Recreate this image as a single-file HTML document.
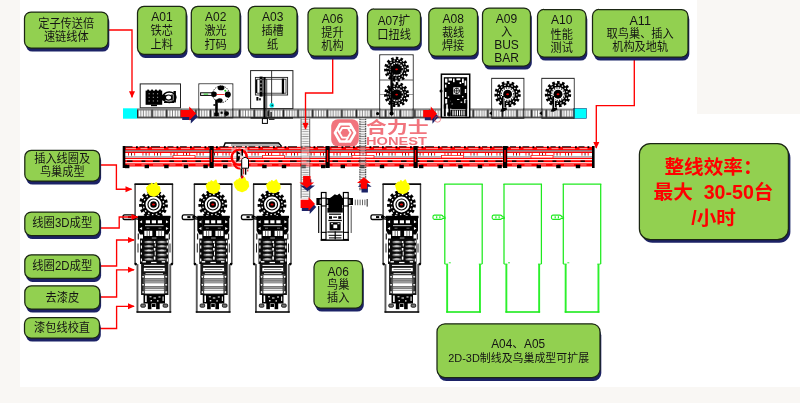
<!DOCTYPE html>
<html lang="zh"><head><meta charset="utf-8"><title>Stator production line layout</title>
<style>
html,body{margin:0;padding:0;background:#fff;}
body{width:800px;height:403px;overflow:hidden;position:relative;font-family:"Liberation Sans","Noto Sans CJK SC",sans-serif;}
.bg{position:absolute;background:#f9f7f4;}
svg{position:absolute;left:0;top:0;display:block;filter:blur(0.35px);}
</style></head><body>
<div class="bg" style="left:0;top:0;width:19.5px;height:403px"></div>
<div class="bg" style="left:0;top:386.6px;width:800px;height:16.4px"></div>
<div class="bg" style="left:697px;top:0;width:103px;height:114px"></div>
<svg width="800" height="403" viewBox="0 0 800 403" font-family="'Liberation Sans', 'Noto Sans CJK SC', sans-serif"><defs><filter id="bl" x="-10%" y="-10%" width="130%" height="140%"><feGaussianBlur stdDeviation="0.55"/></filter><filter id="soft" x="-5%" y="-5%" width="110%" height="110%"><feGaussianBlur stdDeviation="0.35"/></filter><g id="tall"><path d="M0.6 80.6 V0.6 M38 0.6 V80.6" fill="none" stroke="#3c3c3c" stroke-width="1.40"/><path d="M0 0.6 H38.6" fill="none" stroke="#0a0a0a" stroke-width="1.60"/><rect x="2.00" y="80.60" width="1.90" height="48.40" fill="#5a5a5a"/><rect x="34.80" y="80.60" width="1.90" height="48.40" fill="#5a5a5a"/><rect x="2.00" y="127.70" width="34.70" height="1.60" fill="#0a0a0a"/><g transform="translate(19 21)"><circle r="12.76" fill="none" stroke="#000" stroke-width="3.35" stroke-dasharray="2.88 2.47"/><circle r="9.94" fill="#fff" stroke="#000" stroke-width="3.98"/><circle r="10.15" fill="none" stroke="#fff" stroke-width="1.31" stroke-dasharray="1.52 2.47"/><circle r="5.54" fill="#fff" stroke="#000" stroke-width="1.15"/><circle r="3.24" fill="#000"/><ellipse rx="1.57" ry="1.05" fill="#e00000"/></g><path d="M-10 31.3 h8.5 q2 0 2.2 1.6 l3.5 1.2 v1.6 l-4 -0.6 q-0.6 0.9 -1.7 0.9 h-8.5 q-1.6 0 -1.6 -2.3 q0 -2.4 1.6 -2.4z" fill="#fff" stroke="#000" stroke-width="1.3"/><rect x="-6.50" y="32.60" width="3.20" height="2.00" fill="#000"/><rect x="-1.50" y="32.30" width="3.00" height="2.60" fill="#000"/><rect x="3.50" y="32.30" width="32.50" height="2.40" fill="#000"/><path d="M3.5 34 h5.5 v17 h-3.5 l-2 -4z M35.5 34 h-5.5 v17 h3.5 l2 -4z" fill="#000"/><path d="M5 38.5 l2.6 -1.8 v3z M34 38.5 l-2.6 -1.8 v3z M5 45 l2.6 -1.6 v3z M34 45 l-2.6 -1.6 v3z" fill="#fff"/><rect x="8.50" y="34.50" width="22.50" height="27.00" fill="#000"/><rect x="11.30" y="36.80" width="4.20" height="3.00" fill="#fff"/><rect x="17.30" y="36.80" width="4.20" height="3.00" fill="#fff"/><rect x="23.30" y="36.80" width="4.20" height="3.00" fill="#fff"/><rect x="10.50" y="41.80" width="18.50" height="0.80" fill="#fff"/><rect x="12.00" y="44.30" width="3.00" height="0.70" fill="#999"/><rect x="24.00" y="44.30" width="3.00" height="0.70" fill="#999"/><rect x="9.80" y="47.30" width="8.00" height="5.20" fill="#fff"/><rect x="21.60" y="47.30" width="8.00" height="5.20" fill="#fff"/><rect x="12.20" y="47.30" width="0.80" height="5.20" fill="#555"/><rect x="14.60" y="47.30" width="0.80" height="5.20" fill="#555"/><rect x="24.00" y="47.30" width="0.80" height="5.20" fill="#555"/><rect x="26.40" y="47.30" width="0.80" height="5.20" fill="#555"/><rect x="17.30" y="54.20" width="4.60" height="0.90" fill="#fff"/><rect x="5.50" y="55.00" width="28.50" height="25.50" fill="#0a0a0a"/><ellipse cx="14.3" cy="58.5" rx="4.6" ry="1.55" fill="#8a8a8a" stroke="#000" stroke-width="0.5"/><ellipse cx="14.3" cy="58.3" rx="2.6" ry="0.6" fill="#ddd"/><ellipse cx="14.3" cy="62.8" rx="4.6" ry="1.55" fill="#8a8a8a" stroke="#000" stroke-width="0.5"/><ellipse cx="14.3" cy="62.6" rx="2.6" ry="0.6" fill="#ddd"/><ellipse cx="14.3" cy="67.1" rx="4.6" ry="1.55" fill="#8a8a8a" stroke="#000" stroke-width="0.5"/><ellipse cx="14.3" cy="66.9" rx="2.6" ry="0.6" fill="#ddd"/><ellipse cx="14.3" cy="71.4" rx="4.6" ry="1.55" fill="#8a8a8a" stroke="#000" stroke-width="0.5"/><ellipse cx="14.3" cy="71.2" rx="2.6" ry="0.6" fill="#ddd"/><ellipse cx="14.3" cy="75.7" rx="4.6" ry="1.55" fill="#8a8a8a" stroke="#000" stroke-width="0.5"/><ellipse cx="14.3" cy="75.5" rx="2.6" ry="0.6" fill="#ddd"/><ellipse cx="27.3" cy="58.5" rx="4.6" ry="1.55" fill="#8a8a8a" stroke="#000" stroke-width="0.5"/><ellipse cx="27.3" cy="58.3" rx="2.6" ry="0.6" fill="#ddd"/><ellipse cx="27.3" cy="62.8" rx="4.6" ry="1.55" fill="#8a8a8a" stroke="#000" stroke-width="0.5"/><ellipse cx="27.3" cy="62.6" rx="2.6" ry="0.6" fill="#ddd"/><ellipse cx="27.3" cy="67.1" rx="4.6" ry="1.55" fill="#8a8a8a" stroke="#000" stroke-width="0.5"/><ellipse cx="27.3" cy="66.9" rx="2.6" ry="0.6" fill="#ddd"/><ellipse cx="27.3" cy="71.4" rx="4.6" ry="1.55" fill="#8a8a8a" stroke="#000" stroke-width="0.5"/><ellipse cx="27.3" cy="71.2" rx="2.6" ry="0.6" fill="#ddd"/><ellipse cx="27.3" cy="75.7" rx="4.6" ry="1.55" fill="#8a8a8a" stroke="#000" stroke-width="0.5"/><ellipse cx="27.3" cy="75.5" rx="2.6" ry="0.6" fill="#ddd"/><rect x="6.30" y="57.00" width="1.20" height="2.20" fill="#fff"/><rect x="6.30" y="62.00" width="1.20" height="3.00" fill="#fff"/><rect x="6.30" y="69.00" width="1.20" height="2.00" fill="#fff"/><rect x="6.30" y="75.00" width="1.20" height="3.00" fill="#fff"/><rect x="32.20" y="57.00" width="1.20" height="2.20" fill="#fff"/><rect x="32.20" y="62.00" width="1.20" height="3.00" fill="#fff"/><rect x="32.20" y="69.00" width="1.20" height="2.00" fill="#fff"/><rect x="32.20" y="75.00" width="1.20" height="3.00" fill="#fff"/><rect x="20.20" y="60.00" width="1.00" height="3.00" fill="#fff"/><rect x="20.20" y="68.00" width="1.00" height="4.00" fill="#fff"/><rect x="3.20" y="50.00" width="1.20" height="6.00" fill="#222"/><rect x="34.20" y="50.00" width="1.20" height="6.00" fill="#222"/><rect x="3.00" y="60.00" width="1.00" height="9.00" fill="#222"/><rect x="35.00" y="60.00" width="1.00" height="9.00" fill="#222"/><rect x="19.30" y="57.50" width="1.60" height="2.00" fill="#fff"/><rect x="19.30" y="64.50" width="1.60" height="2.60" fill="#fff"/><rect x="19.30" y="73.00" width="1.60" height="3.20" fill="#fff"/><rect x="8.00" y="77.60" width="3.40" height="1.40" fill="#fff"/><rect x="27.20" y="77.60" width="3.40" height="1.40" fill="#fff"/><rect x="16.60" y="78.40" width="5.40" height="1.20" fill="#fff"/><circle cx="1.2" cy="80.6" r="1.3" fill="#000"/><circle cx="37.3" cy="80.6" r="1.3" fill="#000"/><rect x="6.60" y="80.50" width="27.30" height="31.00" fill="#151515"/><rect x="8.20" y="90.80" width="23.80" height="19.40" fill="#4a4a4a"/><rect x="9.50" y="81.40" width="20.50" height="1.00" fill="#fff"/><rect x="9" y="84.0" width="21.6" height="4.2" fill="#fff" stroke="#000" stroke-width="0.6"/><rect x="11.00" y="85.60" width="17.50" height="0.90" fill="#777"/><rect x="11.00" y="89.60" width="17.50" height="1.00" fill="#ddd"/><rect x="10.2" y="91.8" width="19.6" height="3.0" rx="0.8" fill="#fff"/><rect x="10.2" y="95.8" width="19.6" height="1.3" rx="0.8" fill="#b5b5b5"/><rect x="10.2" y="97.9" width="19.6" height="1.0" rx="0.8" fill="#e6e6e6"/><rect x="10.2" y="99.8" width="19.6" height="3.0" rx="0.8" fill="#fff"/><rect x="10.2" y="103.7" width="19.6" height="1.3" rx="0.8" fill="#b5b5b5"/><rect x="10.2" y="105.5" width="19.6" height="0.9" rx="0.8" fill="#e6e6e6"/><rect x="10.2" y="107.1" width="19.6" height="3.0" rx="0.8" fill="#fff"/><circle cx="8.6" cy="93.3" r="1.35" fill="#fff" stroke="#000" stroke-width="0.7"/><circle cx="31.6" cy="93.3" r="1.35" fill="#fff" stroke="#000" stroke-width="0.7"/><circle cx="8.6" cy="101.3" r="1.35" fill="#fff" stroke="#000" stroke-width="0.7"/><circle cx="31.6" cy="101.3" r="1.35" fill="#fff" stroke="#000" stroke-width="0.7"/><circle cx="8.6" cy="108.6" r="1.35" fill="#fff" stroke="#000" stroke-width="0.7"/><circle cx="31.6" cy="108.6" r="1.35" fill="#fff" stroke="#000" stroke-width="0.7"/><rect x="9.00" y="111.00" width="21.50" height="9.00" fill="#000"/><rect x="10.60" y="112.00" width="1.60" height="6.50" fill="#fff"/><rect x="28.00" y="113.00" width="1.20" height="4.50" fill="#ddd"/><rect x="15.00" y="112.80" width="2.00" height="1.00" fill="#fff"/><rect x="19.00" y="114.00" width="2.50" height="1.00" fill="#fff"/><rect x="24.00" y="113.00" width="2.00" height="1.00" fill="#fff"/><rect x="16.00" y="116.60" width="1.50" height="1.20" fill="#fff"/><rect x="22.50" y="116.80" width="1.50" height="1.20" fill="#fff"/><rect x="13.30" y="119.50" width="3.60" height="6.20" fill="#000"/><rect x="21.60" y="119.50" width="3.60" height="6.20" fill="#000"/><rect x="17.40" y="120.50" width="3.60" height="3.00" fill="#000"/><rect x="6.3" y="120.5" width="4.6" height="3.2" rx="1" fill="#777" stroke="#000" stroke-width="0.8"/><rect x="28.6" y="120.5" width="4.6" height="3.2" rx="1" fill="#777" stroke="#000" stroke-width="0.8"/></g><g id="tallg"><path d="M0.6 80.6 V0.6 M38 0.6 V80.6" fill="none" stroke="#1eea1e" stroke-width="1.25"/><path d="M0 0.6 H38.6" fill="none" stroke="#1eea1e" stroke-width="1.45"/><rect x="2.00" y="80.60" width="1.90" height="48.40" fill="#2cf02c"/><rect x="34.80" y="80.60" width="1.90" height="48.40" fill="#2cf02c"/><rect x="2.00" y="127.70" width="34.70" height="1.60" fill="#1eea1e"/><path d="M-10 31.6 h7 q1.6 0 1.8 1.4 l2 0.6 v1.5 l-2.2 -0.3 q-0.5 1.1 -1.6 1.1 h-7 q-1.3 0 -1.3 -2.1 q0 -2.2 1.3 -2.2z M-7.5 32.8 v2 M-4.3 32.8 v2" fill="none" stroke="#1eea1e" stroke-width="1.15"/><path d="M0.5 80.6 h3.4 M38 80.6 h-3.4 M4.6 79.3 h2" stroke="#1eea1e" stroke-width="0.9"/></g><g id="gear"><circle r="11.54" fill="none" stroke="#000" stroke-width="3.03" stroke-dasharray="2.60 2.23"/><circle r="8.99" fill="#fff" stroke="#000" stroke-width="3.60"/><circle r="9.18" fill="none" stroke="#fff" stroke-width="1.18" stroke-dasharray="1.37 2.23"/><circle r="5.01" fill="#fff" stroke="#000" stroke-width="1.04"/><circle r="2.93" fill="#000"/><ellipse rx="1.42" ry="0.95" fill="#e00000"/></g><pattern id="cv" patternUnits="userSpaceOnUse" x="137" y="108.5" width="14.6" height="10"><rect width="14.6" height="10" fill="#6e6e6e"/><rect y="0" width="14.6" height="1.2" fill="#8c8c8c"/><rect x="1.60" y="1.90" width="1.75" height="6.20" fill="#fff"/><rect x="4.20" y="1.90" width="1.75" height="6.20" fill="#fff"/><rect x="6.80" y="1.90" width="1.75" height="6.20" fill="#fff"/><rect x="9.40" y="1.90" width="1.75" height="6.20" fill="#fff"/><rect x="12.00" y="1.90" width="1.75" height="6.20" fill="#fff"/><rect y="8.7" width="14.6" height="1.3" fill="#3a3a3a"/><rect x="0" y="1.2" width="1.1" height="7.6" fill="#222"/></pattern><pattern id="cvv" patternUnits="userSpaceOnUse" x="300.6" y="118.5" width="9.6" height="2.4"><rect width="9.6" height="2.4" fill="#fff"/><rect x="1.4" y="0.7" width="6.8" height="1.0" fill="#9a9a9a"/><rect x="0" width="0.9" height="2.4" fill="#555"/><rect x="8.7" width="0.9" height="2.4" fill="#555"/></pattern><pattern id="cvv2" patternUnits="userSpaceOnUse" x="359.4" y="118.5" width="6.8" height="2.4"><rect width="6.8" height="2.4" fill="#fff"/><rect x="1.2" y="0.7" width="4.4" height="1.0" fill="#7a7a7a"/><rect x="0" width="1.1" height="1.7" fill="#222"/><rect x="5.7" width="1.1" height="1.7" fill="#222"/></pattern></defs><rect x="137" y="108.5" width="436.5" height="10" fill="url(#cv)"/><rect x="123.00" y="108.30" width="14.00" height="10.40" fill="#00ffff"/><rect x="573.40" y="108.30" width="13.20" height="10.20" fill="#00ffff" stroke="#226" stroke-width="0.5"/><rect x="300.6" y="118.5" width="9.6" height="80" fill="url(#cvv)"/><rect x="359.4" y="118.5" width="6.8" height="72" fill="url(#cvv2)" opacity="0.9"/><rect x="123.00" y="146.80" width="471.00" height="3.60" fill="#f00"/><rect x="123.00" y="150.30" width="471.00" height="1.20" fill="#5e6670"/><rect x="123.00" y="151.60" width="471.00" height="1.40" fill="#f00"/><rect x="123.00" y="153.00" width="471.00" height="4.80" fill="#fff"/><rect x="123.00" y="156.30" width="471.00" height="1.10" fill="#8d929b"/><rect x="123.00" y="157.80" width="471.00" height="1.40" fill="#f00"/><rect x="123.00" y="159.20" width="471.00" height="1.00" fill="#fff"/><rect x="123.00" y="160.20" width="471.00" height="2.20" fill="#f00"/><rect x="123.00" y="162.40" width="471.00" height="0.90" fill="#fee"/><rect x="123.00" y="163.30" width="471.00" height="3.20" fill="#f00"/><rect x="126.00" y="148.30" width="10.00" height="0.80" fill="#fcc"/><rect x="127.00" y="164.60" width="8.00" height="0.70" fill="#fbb"/><rect x="125.00" y="146.30" width="7.50" height="1.00" fill="#000"/><rect x="136.00" y="146.20" width="1.80" height="1.80" fill="#000"/><rect x="128.00" y="153.00" width="0.90" height="2.60" fill="#f00"/><rect x="131.10" y="153.00" width="0.90" height="2.60" fill="#500"/><rect x="134.20" y="153.00" width="0.90" height="2.60" fill="#f00"/><rect x="127.00" y="160.50" width="5.50" height="1.40" fill="#000"/><rect x="140.50" y="148.30" width="7.00" height="0.80" fill="#fcc"/><rect x="141.50" y="164.60" width="5.00" height="0.70" fill="#fbb"/><rect x="139.50" y="146.30" width="5.25" height="1.00" fill="#000"/><rect x="147.50" y="146.20" width="1.80" height="1.80" fill="#000"/><rect x="142.50" y="153.00" width="0.90" height="2.60" fill="#f00"/><rect x="145.60" y="153.00" width="0.90" height="2.60" fill="#500"/><rect x="148.70" y="153.00" width="0.90" height="2.60" fill="#f00"/><rect x="141.50" y="160.50" width="3.85" height="1.40" fill="#000"/><rect x="152.00" y="148.30" width="12.00" height="0.80" fill="#fcc"/><rect x="153.00" y="164.60" width="10.00" height="0.70" fill="#fbb"/><rect x="151.00" y="146.30" width="9.00" height="1.00" fill="#000"/><rect x="164.00" y="146.20" width="1.80" height="1.80" fill="#000"/><rect x="154.00" y="153.00" width="0.90" height="2.60" fill="#f00"/><rect x="157.10" y="153.00" width="0.90" height="2.60" fill="#500"/><rect x="160.20" y="153.00" width="0.90" height="2.60" fill="#f00"/><rect x="153.00" y="160.50" width="6.60" height="1.40" fill="#000"/><rect x="168.50" y="148.30" width="8.00" height="0.80" fill="#fcc"/><rect x="169.50" y="164.60" width="6.00" height="0.70" fill="#fbb"/><rect x="167.50" y="146.30" width="6.00" height="1.00" fill="#000"/><rect x="176.50" y="146.20" width="1.80" height="1.80" fill="#000"/><rect x="170.50" y="153.00" width="0.90" height="2.60" fill="#f00"/><rect x="173.60" y="153.00" width="0.90" height="2.60" fill="#500"/><rect x="176.70" y="153.00" width="0.90" height="2.60" fill="#f00"/><rect x="169.50" y="160.50" width="4.40" height="1.40" fill="#000"/><rect x="181.00" y="148.30" width="9.00" height="0.80" fill="#fcc"/><rect x="182.00" y="164.60" width="7.00" height="0.70" fill="#fbb"/><rect x="180.00" y="146.30" width="6.75" height="1.00" fill="#000"/><rect x="190.00" y="146.20" width="1.80" height="1.80" fill="#000"/><rect x="183.00" y="153.00" width="0.90" height="2.60" fill="#f00"/><rect x="186.10" y="153.00" width="0.90" height="2.60" fill="#500"/><rect x="189.20" y="153.00" width="0.90" height="2.60" fill="#f00"/><rect x="182.00" y="160.50" width="4.95" height="1.40" fill="#000"/><rect x="194.50" y="148.30" width="10.00" height="0.80" fill="#fcc"/><rect x="195.50" y="164.60" width="8.00" height="0.70" fill="#fbb"/><rect x="193.50" y="146.30" width="7.50" height="1.00" fill="#000"/><rect x="204.50" y="146.20" width="1.80" height="1.80" fill="#000"/><rect x="196.50" y="153.00" width="0.90" height="2.60" fill="#f00"/><rect x="199.60" y="153.00" width="0.90" height="2.60" fill="#500"/><rect x="202.70" y="153.00" width="0.90" height="2.60" fill="#f00"/><rect x="195.50" y="160.50" width="5.50" height="1.40" fill="#000"/><rect x="209.00" y="148.30" width="7.00" height="0.80" fill="#fcc"/><rect x="210.00" y="164.60" width="5.00" height="0.70" fill="#fbb"/><rect x="208.00" y="146.30" width="5.25" height="1.00" fill="#000"/><rect x="216.00" y="146.20" width="1.80" height="1.80" fill="#000"/><rect x="211.00" y="153.00" width="0.90" height="2.60" fill="#f00"/><rect x="214.10" y="153.00" width="0.90" height="2.60" fill="#500"/><rect x="217.20" y="153.00" width="0.90" height="2.60" fill="#f00"/><rect x="210.00" y="160.50" width="3.85" height="1.40" fill="#000"/><rect x="220.50" y="148.30" width="12.00" height="0.80" fill="#fcc"/><rect x="221.50" y="164.60" width="10.00" height="0.70" fill="#fbb"/><rect x="219.50" y="146.30" width="9.00" height="1.00" fill="#000"/><rect x="232.50" y="146.20" width="1.80" height="1.80" fill="#000"/><rect x="222.50" y="153.00" width="0.90" height="2.60" fill="#f00"/><rect x="225.60" y="153.00" width="0.90" height="2.60" fill="#500"/><rect x="228.70" y="153.00" width="0.90" height="2.60" fill="#f00"/><rect x="221.50" y="160.50" width="6.60" height="1.40" fill="#000"/><rect x="237.00" y="148.30" width="8.00" height="0.80" fill="#fcc"/><rect x="238.00" y="164.60" width="6.00" height="0.70" fill="#fbb"/><rect x="236.00" y="146.30" width="6.00" height="1.00" fill="#000"/><rect x="245.00" y="146.20" width="1.80" height="1.80" fill="#000"/><rect x="239.00" y="153.00" width="0.90" height="2.60" fill="#f00"/><rect x="242.10" y="153.00" width="0.90" height="2.60" fill="#500"/><rect x="245.20" y="153.00" width="0.90" height="2.60" fill="#f00"/><rect x="238.00" y="160.50" width="4.40" height="1.40" fill="#000"/><rect x="249.50" y="148.30" width="9.00" height="0.80" fill="#fcc"/><rect x="250.50" y="164.60" width="7.00" height="0.70" fill="#fbb"/><rect x="248.50" y="146.30" width="6.75" height="1.00" fill="#000"/><rect x="258.50" y="146.20" width="1.80" height="1.80" fill="#000"/><rect x="251.50" y="153.00" width="0.90" height="2.60" fill="#f00"/><rect x="254.60" y="153.00" width="0.90" height="2.60" fill="#500"/><rect x="257.70" y="153.00" width="0.90" height="2.60" fill="#f00"/><rect x="250.50" y="160.50" width="4.95" height="1.40" fill="#000"/><rect x="263.00" y="148.30" width="10.00" height="0.80" fill="#fcc"/><rect x="264.00" y="164.60" width="8.00" height="0.70" fill="#fbb"/><rect x="262.00" y="146.30" width="7.50" height="1.00" fill="#000"/><rect x="273.00" y="146.20" width="1.80" height="1.80" fill="#000"/><rect x="265.00" y="153.00" width="0.90" height="2.60" fill="#f00"/><rect x="268.10" y="153.00" width="0.90" height="2.60" fill="#500"/><rect x="271.20" y="153.00" width="0.90" height="2.60" fill="#f00"/><rect x="264.00" y="160.50" width="5.50" height="1.40" fill="#000"/><rect x="277.50" y="148.30" width="7.00" height="0.80" fill="#fcc"/><rect x="278.50" y="164.60" width="5.00" height="0.70" fill="#fbb"/><rect x="276.50" y="146.30" width="5.25" height="1.00" fill="#000"/><rect x="284.50" y="146.20" width="1.80" height="1.80" fill="#000"/><rect x="279.50" y="153.00" width="0.90" height="2.60" fill="#f00"/><rect x="282.60" y="153.00" width="0.90" height="2.60" fill="#500"/><rect x="285.70" y="153.00" width="0.90" height="2.60" fill="#f00"/><rect x="278.50" y="160.50" width="3.85" height="1.40" fill="#000"/><rect x="289.00" y="148.30" width="12.00" height="0.80" fill="#fcc"/><rect x="290.00" y="164.60" width="10.00" height="0.70" fill="#fbb"/><rect x="288.00" y="146.30" width="9.00" height="1.00" fill="#000"/><rect x="301.00" y="146.20" width="1.80" height="1.80" fill="#000"/><rect x="291.00" y="153.00" width="0.90" height="2.60" fill="#f00"/><rect x="294.10" y="153.00" width="0.90" height="2.60" fill="#500"/><rect x="297.20" y="153.00" width="0.90" height="2.60" fill="#f00"/><rect x="290.00" y="160.50" width="6.60" height="1.40" fill="#000"/><rect x="305.50" y="148.30" width="8.00" height="0.80" fill="#fcc"/><rect x="306.50" y="164.60" width="6.00" height="0.70" fill="#fbb"/><rect x="304.50" y="146.30" width="6.00" height="1.00" fill="#000"/><rect x="313.50" y="146.20" width="1.80" height="1.80" fill="#000"/><rect x="307.50" y="153.00" width="0.90" height="2.60" fill="#f00"/><rect x="310.60" y="153.00" width="0.90" height="2.60" fill="#500"/><rect x="313.70" y="153.00" width="0.90" height="2.60" fill="#f00"/><rect x="306.50" y="160.50" width="4.40" height="1.40" fill="#000"/><rect x="318.00" y="148.30" width="9.00" height="0.80" fill="#fcc"/><rect x="319.00" y="164.60" width="7.00" height="0.70" fill="#fbb"/><rect x="317.00" y="146.30" width="6.75" height="1.00" fill="#000"/><rect x="327.00" y="146.20" width="1.80" height="1.80" fill="#000"/><rect x="320.00" y="153.00" width="0.90" height="2.60" fill="#f00"/><rect x="323.10" y="153.00" width="0.90" height="2.60" fill="#500"/><rect x="326.20" y="153.00" width="0.90" height="2.60" fill="#f00"/><rect x="319.00" y="160.50" width="4.95" height="1.40" fill="#000"/><rect x="331.50" y="148.30" width="10.00" height="0.80" fill="#fcc"/><rect x="332.50" y="164.60" width="8.00" height="0.70" fill="#fbb"/><rect x="330.50" y="146.30" width="7.50" height="1.00" fill="#000"/><rect x="341.50" y="146.20" width="1.80" height="1.80" fill="#000"/><rect x="333.50" y="153.00" width="0.90" height="2.60" fill="#f00"/><rect x="336.60" y="153.00" width="0.90" height="2.60" fill="#500"/><rect x="339.70" y="153.00" width="0.90" height="2.60" fill="#f00"/><rect x="332.50" y="160.50" width="5.50" height="1.40" fill="#000"/><rect x="346.00" y="148.30" width="7.00" height="0.80" fill="#fcc"/><rect x="347.00" y="164.60" width="5.00" height="0.70" fill="#fbb"/><rect x="345.00" y="146.30" width="5.25" height="1.00" fill="#000"/><rect x="353.00" y="146.20" width="1.80" height="1.80" fill="#000"/><rect x="348.00" y="153.00" width="0.90" height="2.60" fill="#f00"/><rect x="351.10" y="153.00" width="0.90" height="2.60" fill="#500"/><rect x="354.20" y="153.00" width="0.90" height="2.60" fill="#f00"/><rect x="347.00" y="160.50" width="3.85" height="1.40" fill="#000"/><rect x="357.50" y="148.30" width="12.00" height="0.80" fill="#fcc"/><rect x="358.50" y="164.60" width="10.00" height="0.70" fill="#fbb"/><rect x="356.50" y="146.30" width="9.00" height="1.00" fill="#000"/><rect x="369.50" y="146.20" width="1.80" height="1.80" fill="#000"/><rect x="359.50" y="153.00" width="0.90" height="2.60" fill="#f00"/><rect x="362.60" y="153.00" width="0.90" height="2.60" fill="#500"/><rect x="365.70" y="153.00" width="0.90" height="2.60" fill="#f00"/><rect x="358.50" y="160.50" width="6.60" height="1.40" fill="#000"/><rect x="374.00" y="148.30" width="8.00" height="0.80" fill="#fcc"/><rect x="375.00" y="164.60" width="6.00" height="0.70" fill="#fbb"/><rect x="373.00" y="146.30" width="6.00" height="1.00" fill="#000"/><rect x="382.00" y="146.20" width="1.80" height="1.80" fill="#000"/><rect x="376.00" y="153.00" width="0.90" height="2.60" fill="#f00"/><rect x="379.10" y="153.00" width="0.90" height="2.60" fill="#500"/><rect x="382.20" y="153.00" width="0.90" height="2.60" fill="#f00"/><rect x="375.00" y="160.50" width="4.40" height="1.40" fill="#000"/><rect x="386.50" y="148.30" width="9.00" height="0.80" fill="#fcc"/><rect x="387.50" y="164.60" width="7.00" height="0.70" fill="#fbb"/><rect x="385.50" y="146.30" width="6.75" height="1.00" fill="#000"/><rect x="395.50" y="146.20" width="1.80" height="1.80" fill="#000"/><rect x="388.50" y="153.00" width="0.90" height="2.60" fill="#f00"/><rect x="391.60" y="153.00" width="0.90" height="2.60" fill="#500"/><rect x="394.70" y="153.00" width="0.90" height="2.60" fill="#f00"/><rect x="387.50" y="160.50" width="4.95" height="1.40" fill="#000"/><rect x="400.00" y="148.30" width="10.00" height="0.80" fill="#fcc"/><rect x="401.00" y="164.60" width="8.00" height="0.70" fill="#fbb"/><rect x="399.00" y="146.30" width="7.50" height="1.00" fill="#000"/><rect x="410.00" y="146.20" width="1.80" height="1.80" fill="#000"/><rect x="402.00" y="153.00" width="0.90" height="2.60" fill="#f00"/><rect x="405.10" y="153.00" width="0.90" height="2.60" fill="#500"/><rect x="408.20" y="153.00" width="0.90" height="2.60" fill="#f00"/><rect x="401.00" y="160.50" width="5.50" height="1.40" fill="#000"/><rect x="414.50" y="148.30" width="7.00" height="0.80" fill="#fcc"/><rect x="415.50" y="164.60" width="5.00" height="0.70" fill="#fbb"/><rect x="413.50" y="146.30" width="5.25" height="1.00" fill="#000"/><rect x="421.50" y="146.20" width="1.80" height="1.80" fill="#000"/><rect x="416.50" y="153.00" width="0.90" height="2.60" fill="#f00"/><rect x="419.60" y="153.00" width="0.90" height="2.60" fill="#500"/><rect x="422.70" y="153.00" width="0.90" height="2.60" fill="#f00"/><rect x="415.50" y="160.50" width="3.85" height="1.40" fill="#000"/><rect x="426.00" y="148.30" width="12.00" height="0.80" fill="#fcc"/><rect x="427.00" y="164.60" width="10.00" height="0.70" fill="#fbb"/><rect x="425.00" y="146.30" width="9.00" height="1.00" fill="#000"/><rect x="438.00" y="146.20" width="1.80" height="1.80" fill="#000"/><rect x="428.00" y="153.00" width="0.90" height="2.60" fill="#f00"/><rect x="431.10" y="153.00" width="0.90" height="2.60" fill="#500"/><rect x="434.20" y="153.00" width="0.90" height="2.60" fill="#f00"/><rect x="427.00" y="160.50" width="6.60" height="1.40" fill="#000"/><rect x="442.50" y="148.30" width="8.00" height="0.80" fill="#fcc"/><rect x="443.50" y="164.60" width="6.00" height="0.70" fill="#fbb"/><rect x="441.50" y="146.30" width="6.00" height="1.00" fill="#000"/><rect x="450.50" y="146.20" width="1.80" height="1.80" fill="#000"/><rect x="444.50" y="153.00" width="0.90" height="2.60" fill="#f00"/><rect x="447.60" y="153.00" width="0.90" height="2.60" fill="#500"/><rect x="450.70" y="153.00" width="0.90" height="2.60" fill="#f00"/><rect x="443.50" y="160.50" width="4.40" height="1.40" fill="#000"/><rect x="455.00" y="148.30" width="9.00" height="0.80" fill="#fcc"/><rect x="456.00" y="164.60" width="7.00" height="0.70" fill="#fbb"/><rect x="454.00" y="146.30" width="6.75" height="1.00" fill="#000"/><rect x="464.00" y="146.20" width="1.80" height="1.80" fill="#000"/><rect x="457.00" y="153.00" width="0.90" height="2.60" fill="#f00"/><rect x="460.10" y="153.00" width="0.90" height="2.60" fill="#500"/><rect x="463.20" y="153.00" width="0.90" height="2.60" fill="#f00"/><rect x="456.00" y="160.50" width="4.95" height="1.40" fill="#000"/><rect x="468.50" y="148.30" width="10.00" height="0.80" fill="#fcc"/><rect x="469.50" y="164.60" width="8.00" height="0.70" fill="#fbb"/><rect x="467.50" y="146.30" width="7.50" height="1.00" fill="#000"/><rect x="478.50" y="146.20" width="1.80" height="1.80" fill="#000"/><rect x="470.50" y="153.00" width="0.90" height="2.60" fill="#f00"/><rect x="473.60" y="153.00" width="0.90" height="2.60" fill="#500"/><rect x="476.70" y="153.00" width="0.90" height="2.60" fill="#f00"/><rect x="469.50" y="160.50" width="5.50" height="1.40" fill="#000"/><rect x="483.00" y="148.30" width="7.00" height="0.80" fill="#fcc"/><rect x="484.00" y="164.60" width="5.00" height="0.70" fill="#fbb"/><rect x="482.00" y="146.30" width="5.25" height="1.00" fill="#000"/><rect x="490.00" y="146.20" width="1.80" height="1.80" fill="#000"/><rect x="485.00" y="153.00" width="0.90" height="2.60" fill="#f00"/><rect x="488.10" y="153.00" width="0.90" height="2.60" fill="#500"/><rect x="491.20" y="153.00" width="0.90" height="2.60" fill="#f00"/><rect x="484.00" y="160.50" width="3.85" height="1.40" fill="#000"/><rect x="494.50" y="148.30" width="12.00" height="0.80" fill="#fcc"/><rect x="495.50" y="164.60" width="10.00" height="0.70" fill="#fbb"/><rect x="493.50" y="146.30" width="9.00" height="1.00" fill="#000"/><rect x="506.50" y="146.20" width="1.80" height="1.80" fill="#000"/><rect x="496.50" y="153.00" width="0.90" height="2.60" fill="#f00"/><rect x="499.60" y="153.00" width="0.90" height="2.60" fill="#500"/><rect x="502.70" y="153.00" width="0.90" height="2.60" fill="#f00"/><rect x="495.50" y="160.50" width="6.60" height="1.40" fill="#000"/><rect x="511.00" y="148.30" width="8.00" height="0.80" fill="#fcc"/><rect x="512.00" y="164.60" width="6.00" height="0.70" fill="#fbb"/><rect x="510.00" y="146.30" width="6.00" height="1.00" fill="#000"/><rect x="519.00" y="146.20" width="1.80" height="1.80" fill="#000"/><rect x="513.00" y="153.00" width="0.90" height="2.60" fill="#f00"/><rect x="516.10" y="153.00" width="0.90" height="2.60" fill="#500"/><rect x="519.20" y="153.00" width="0.90" height="2.60" fill="#f00"/><rect x="512.00" y="160.50" width="4.40" height="1.40" fill="#000"/><rect x="523.50" y="148.30" width="9.00" height="0.80" fill="#fcc"/><rect x="524.50" y="164.60" width="7.00" height="0.70" fill="#fbb"/><rect x="522.50" y="146.30" width="6.75" height="1.00" fill="#000"/><rect x="532.50" y="146.20" width="1.80" height="1.80" fill="#000"/><rect x="525.50" y="153.00" width="0.90" height="2.60" fill="#f00"/><rect x="528.60" y="153.00" width="0.90" height="2.60" fill="#500"/><rect x="531.70" y="153.00" width="0.90" height="2.60" fill="#f00"/><rect x="524.50" y="160.50" width="4.95" height="1.40" fill="#000"/><rect x="537.00" y="148.30" width="10.00" height="0.80" fill="#fcc"/><rect x="538.00" y="164.60" width="8.00" height="0.70" fill="#fbb"/><rect x="536.00" y="146.30" width="7.50" height="1.00" fill="#000"/><rect x="547.00" y="146.20" width="1.80" height="1.80" fill="#000"/><rect x="539.00" y="153.00" width="0.90" height="2.60" fill="#f00"/><rect x="542.10" y="153.00" width="0.90" height="2.60" fill="#500"/><rect x="545.20" y="153.00" width="0.90" height="2.60" fill="#f00"/><rect x="538.00" y="160.50" width="5.50" height="1.40" fill="#000"/><rect x="551.50" y="148.30" width="7.00" height="0.80" fill="#fcc"/><rect x="552.50" y="164.60" width="5.00" height="0.70" fill="#fbb"/><rect x="550.50" y="146.30" width="5.25" height="1.00" fill="#000"/><rect x="558.50" y="146.20" width="1.80" height="1.80" fill="#000"/><rect x="553.50" y="153.00" width="0.90" height="2.60" fill="#f00"/><rect x="556.60" y="153.00" width="0.90" height="2.60" fill="#500"/><rect x="559.70" y="153.00" width="0.90" height="2.60" fill="#f00"/><rect x="552.50" y="160.50" width="3.85" height="1.40" fill="#000"/><rect x="563.00" y="148.30" width="12.00" height="0.80" fill="#fcc"/><rect x="564.00" y="164.60" width="10.00" height="0.70" fill="#fbb"/><rect x="562.00" y="146.30" width="9.00" height="1.00" fill="#000"/><rect x="575.00" y="146.20" width="1.80" height="1.80" fill="#000"/><rect x="565.00" y="153.00" width="0.90" height="2.60" fill="#f00"/><rect x="568.10" y="153.00" width="0.90" height="2.60" fill="#500"/><rect x="571.20" y="153.00" width="0.90" height="2.60" fill="#f00"/><rect x="564.00" y="160.50" width="6.60" height="1.40" fill="#000"/><rect x="579.50" y="148.30" width="8.00" height="0.80" fill="#fcc"/><rect x="580.50" y="164.60" width="6.00" height="0.70" fill="#fbb"/><rect x="578.50" y="146.30" width="6.00" height="1.00" fill="#000"/><rect x="587.50" y="146.20" width="1.80" height="1.80" fill="#000"/><rect x="581.50" y="153.00" width="0.90" height="2.60" fill="#f00"/><rect x="584.60" y="153.00" width="0.90" height="2.60" fill="#500"/><rect x="587.70" y="153.00" width="0.90" height="2.60" fill="#f00"/><rect x="580.50" y="160.50" width="4.40" height="1.40" fill="#000"/><rect x="173.0" y="155.6" width="22" height="2.4" fill="#fff" stroke="#f00" stroke-width="0.7"/><rect x="262.5" y="155.6" width="22" height="2.4" fill="#fff" stroke="#f00" stroke-width="0.7"/><rect x="352.0" y="155.6" width="22" height="2.4" fill="#fff" stroke="#f00" stroke-width="0.7"/><rect x="441.5" y="155.6" width="22" height="2.4" fill="#fff" stroke="#f00" stroke-width="0.7"/><rect x="531.0" y="155.6" width="22" height="2.4" fill="#fff" stroke="#f00" stroke-width="0.7"/><rect x="125.00" y="164.80" width="4.40" height="3.40" fill="#000"/><rect x="144.60" y="164.80" width="4.40" height="3.40" fill="#000"/><rect x="164.20" y="164.80" width="4.40" height="3.40" fill="#000"/><rect x="183.80" y="164.80" width="4.40" height="3.40" fill="#000"/><rect x="203.40" y="164.80" width="4.40" height="3.40" fill="#000"/><rect x="223.00" y="164.80" width="4.40" height="3.40" fill="#000"/><rect x="242.60" y="164.80" width="4.40" height="3.40" fill="#000"/><rect x="262.20" y="164.80" width="4.40" height="3.40" fill="#000"/><rect x="281.80" y="164.80" width="4.40" height="3.40" fill="#000"/><rect x="301.40" y="164.80" width="4.40" height="3.40" fill="#000"/><rect x="321.00" y="164.80" width="4.40" height="3.40" fill="#000"/><rect x="340.60" y="164.80" width="4.40" height="3.40" fill="#000"/><rect x="360.20" y="164.80" width="4.40" height="3.40" fill="#000"/><rect x="379.80" y="164.80" width="4.40" height="3.40" fill="#000"/><rect x="399.40" y="164.80" width="4.40" height="3.40" fill="#000"/><rect x="419.00" y="164.80" width="4.40" height="3.40" fill="#000"/><rect x="438.60" y="164.80" width="4.40" height="3.40" fill="#000"/><rect x="458.20" y="164.80" width="4.40" height="3.40" fill="#000"/><rect x="477.80" y="164.80" width="4.40" height="3.40" fill="#000"/><rect x="497.40" y="164.80" width="4.40" height="3.40" fill="#000"/><rect x="517.00" y="164.80" width="4.40" height="3.40" fill="#000"/><rect x="536.60" y="164.80" width="4.40" height="3.40" fill="#000"/><rect x="556.20" y="164.80" width="4.40" height="3.40" fill="#000"/><rect x="575.80" y="164.80" width="4.40" height="3.40" fill="#000"/><rect x="122.70" y="146.00" width="2.60" height="22.00" fill="#000"/><rect x="209.50" y="146.00" width="4.20" height="22.00" fill="#000"/><rect x="210.80" y="150.00" width="1.40" height="12.00" fill="#f00"/><rect x="325.50" y="146.00" width="4.20" height="22.00" fill="#000"/><rect x="326.80" y="150.00" width="1.40" height="12.00" fill="#f00"/><rect x="413.50" y="146.00" width="4.20" height="22.00" fill="#000"/><rect x="414.80" y="150.00" width="1.40" height="12.00" fill="#f00"/><rect x="503.00" y="146.00" width="4.20" height="22.00" fill="#000"/><rect x="504.30" y="150.00" width="1.40" height="12.00" fill="#f00"/><rect x="592.00" y="146.00" width="2.60" height="22.00" fill="#000"/><rect x="300.6" y="146" width="9.6" height="22" fill="url(#cvv)" opacity="0.45"/><rect x="359.4" y="146" width="6.8" height="22" fill="url(#cvv2)" opacity="0.4"/><path d="M223.6 147 l1.6 -4 H278.6 l3 3.4" fill="none" stroke="#000" stroke-width="1.4"/><path d="M231 145 H279" fill="none" stroke="#555" stroke-width="0.9"/><rect x="231.50" y="147.50" width="16.00" height="19.00" fill="#fff" opacity="0.55"/><circle cx="239.3" cy="157.2" r="7.6" fill="none" stroke="#f00" stroke-width="2.4"/><path d="M233.5 163.5 q2.5 5.5 7 5" fill="none" stroke="#f00" stroke-width="2"/><path d="M236.5 150.5 l4 3 l-1 6.5 l-3.2 2.4z" fill="#000"/><rect x="241.40" y="149.20" width="1.60" height="6.50" fill="#000"/><rect x="238.20" y="154.00" width="1.60" height="2.20" fill="#fff"/><path d="M244.6 150.8 q2 3 1.6 6" fill="none" stroke="#f00" stroke-width="1.6"/><path d="M241.7 159.6 q3.4 -4.6 6.8 0 v8.6 h-6.8z" fill="#fff" stroke="#000" stroke-width="1.0"/><rect x="240.60" y="168.40" width="1.80" height="9.00" fill="#000"/><rect x="243.20" y="168.40" width="1.00" height="6.00" fill="#c00"/><rect x="245.00" y="168.20" width="1.30" height="6.50" fill="#000"/><rect x="247.30" y="169.50" width="1.00" height="2.00" fill="#d00"/><rect x="241.00" y="175.60" width="2.60" height="3.00" fill="#d00"/><rect x="140.20" y="83.90" width="40.30" height="23.90" fill="#fff" stroke="#222" stroke-width="1.00"/><rect x="145.60" y="90.60" width="16.60" height="14.20" fill="#000"/><rect x="147.20" y="89.60" width="1.90" height="1.40" fill="#000"/><rect x="151.10" y="89.60" width="1.90" height="1.40" fill="#000"/><rect x="155.00" y="89.60" width="1.90" height="1.40" fill="#000"/><rect x="158.90" y="89.60" width="1.90" height="1.40" fill="#000"/><rect x="148.60" y="93.20" width="1.10" height="1.10" fill="#9a9a9a"/><rect x="148.60" y="96.80" width="1.10" height="1.10" fill="#9a9a9a"/><rect x="148.60" y="100.40" width="1.10" height="1.10" fill="#9a9a9a"/><rect x="152.80" y="93.20" width="1.10" height="1.10" fill="#9a9a9a"/><rect x="152.80" y="96.80" width="1.10" height="1.10" fill="#9a9a9a"/><rect x="152.80" y="100.40" width="1.10" height="1.10" fill="#9a9a9a"/><rect x="157.00" y="93.20" width="1.10" height="1.10" fill="#9a9a9a"/><rect x="157.00" y="96.80" width="1.10" height="1.10" fill="#9a9a9a"/><rect x="157.00" y="100.40" width="1.10" height="1.10" fill="#9a9a9a"/><rect x="151.00" y="104.60" width="6.00" height="1.60" fill="#000"/><ellipse cx="169.3" cy="97.3" rx="6.6" ry="5.2" fill="#fff" stroke="#000" stroke-width="1.5"/><ellipse cx="168.6" cy="97.6" rx="3.2" ry="2.6" fill="#fff" stroke="#000" stroke-width="1.2"/><rect x="161.50" y="94.80" width="4.20" height="5.60" fill="#000"/><rect x="173.50" y="91.00" width="2.40" height="11.50" fill="#000"/><rect x="171.40" y="94.40" width="1.40" height="6.40" fill="#000"/><rect x="164.00" y="101.60" width="10.00" height="1.40" fill="#000"/><rect x="198.9" y="83.9" width="33.9" height="33.9" fill="none" stroke="#222" stroke-width="1"/><rect x="199.40" y="84.40" width="32.90" height="24.00" fill="#fff"/><circle cx="221" cy="94.3" r="8.3" fill="#fff" stroke="#000" stroke-width="0.9" stroke-dasharray="1.4 1.1"/><ellipse cx="221.0" cy="87.9" rx="3.4" ry="2.3" fill="#000"/><ellipse cx="213.8" cy="94.3" rx="3.0" ry="2.7" fill="#000"/><ellipse cx="227.8" cy="94.5" rx="3.0" ry="2.9" fill="#000"/><ellipse cx="219.8" cy="100.5" rx="2.8" ry="2.2" fill="#000"/><rect x="216.50" y="94.00" width="8.00" height="0.80" fill="#e00"/><circle cx="225.3" cy="90.8" r="1" fill="#1c1"/><rect x="200.6" y="92.8" width="11.2" height="2.6" fill="#fff" stroke="#000" stroke-width="1"/><rect x="203.60" y="93.60" width="4.60" height="1.00" fill="#2c2"/><rect x="215.20" y="99.50" width="2.60" height="16.50" fill="#000"/><rect x="213.40" y="104.20" width="2.20" height="1.60" fill="#000"/><rect x="214.20" y="112.60" width="4.60" height="3.80" fill="#000"/><circle cx="226.6" cy="113.6" r="2.3" fill="#000"/><rect x="220.50" y="111.60" width="2.20" height="2.20" fill="#000"/><rect x="250.6" y="70.6" width="42.3" height="38" fill="#fff" stroke="#222" stroke-width="1"/><rect x="271.20" y="70.60" width="0.90" height="36.00" fill="#222"/><rect x="255.4" y="77.4" width="32.2" height="17.6" fill="none" stroke="#222" stroke-width="0.9"/><rect x="257" y="79.2" width="29" height="14.0" fill="none" stroke="#222" stroke-width="0.8"/><rect x="259.60" y="76.60" width="3.00" height="20.00" fill="#000"/><rect x="263.40" y="77.00" width="2.20" height="45.50" fill="#000"/><rect x="266.30" y="79.00" width="0.90" height="42.00" fill="#333"/><rect x="281.80" y="78.60" width="2.30" height="15.20" fill="#000"/><rect x="255.60" y="79.50" width="1.40" height="13.50" fill="#000"/><rect x="256.40" y="97.00" width="2.00" height="3.60" fill="#000"/><rect x="259.20" y="98.20" width="1.60" height="2.20" fill="#000"/><rect x="260.30" y="79.00" width="1.30" height="1.50" fill="#aaa"/><rect x="260.30" y="82.80" width="1.30" height="1.50" fill="#aaa"/><rect x="260.30" y="86.60" width="1.30" height="1.50" fill="#aaa"/><rect x="260.30" y="90.40" width="1.30" height="1.50" fill="#aaa"/><circle cx="271.8" cy="105.4" r="2.3" fill="#00e5e5"/><circle cx="272.2" cy="105.4" r="0.9" fill="#044"/><rect x="250.50" y="117.30" width="42.50" height="1.30" fill="#111"/><rect x="262.40" y="118.60" width="5.00" height="4.80" fill="#fff" stroke="#000" stroke-width="1"/><rect x="269.00" y="118.80" width="5.50" height="1.00" fill="#000"/><rect x="270.50" y="112.00" width="1.20" height="5.00" fill="#000"/><rect x="267.50" y="111.20" width="1.20" height="5.00" fill="#000"/><rect x="379.8" y="54.9" width="33.3" height="63" fill="none" stroke="#222" stroke-width="1.1"/><rect x="380.30" y="55.40" width="32.30" height="53.00" fill="#fff"/><rect x="379.80" y="79.60" width="33.30" height="0.80" fill="#333"/><rect x="379.80" y="94.40" width="33.30" height="0.60" fill="#555"/><g transform="translate(396.6 69.3)"><circle r="11.07" fill="none" stroke="#000" stroke-width="2.90" stroke-dasharray="2.50 2.14"/><circle r="8.62" fill="#fff" stroke="#000" stroke-width="3.45"/><circle r="8.80" fill="none" stroke="#fff" stroke-width="1.13" stroke-dasharray="1.32 2.14"/><circle r="5.99" fill="none" stroke="#000" stroke-width="1.18" stroke-dasharray="1.09 1.27"/><circle r="5.45" fill="#000"/><ellipse rx="1.36" ry="0.91" fill="#e00000"/></g><g transform="translate(396.6 94.6)"><circle r="11.07" fill="none" stroke="#000" stroke-width="2.90" stroke-dasharray="2.50 2.14"/><circle r="8.62" fill="#fff" stroke="#000" stroke-width="3.45"/><circle r="8.80" fill="none" stroke="#fff" stroke-width="1.13" stroke-dasharray="1.32 2.14"/><circle r="5.99" fill="none" stroke="#000" stroke-width="1.18" stroke-dasharray="1.09 1.27"/><circle r="5.45" fill="#000"/><ellipse rx="1.36" ry="0.91" fill="#e00000"/></g><rect x="390.40" y="66.00" width="2.40" height="47.00" fill="#000"/><circle cx="391.6" cy="113.6" r="2.1" fill="#000"/><rect x="388.60" y="88.00" width="2.00" height="3.00" fill="#000"/><circle cx="377.6" cy="113.6" r="1.6" fill="#000"/><rect x="441.4" y="74.2" width="28.3" height="43.2" fill="#fff" stroke="#000" stroke-width="1.5"/><rect x="443.8" y="77.2" width="23.4" height="31.5" fill="#000"/><rect x="445.00" y="78.60" width="2.40" height="4.00" fill="#fff"/><rect x="448.60" y="78.40" width="3.40" height="2.20" fill="#fff"/><rect x="453.00" y="78.60" width="1.60" height="3.60" fill="#fff"/><rect x="456.40" y="78.40" width="4.00" height="1.80" fill="#fff"/><rect x="462.00" y="78.60" width="1.80" height="4.40" fill="#fff"/><rect x="464.60" y="80.60" width="1.60" height="5.00" fill="#fff"/><rect x="445.00" y="84.60" width="1.40" height="3.00" fill="#fff"/><rect x="448.00" y="82.60" width="2.00" height="1.40" fill="#fff"/><rect x="459.60" y="82.00" width="1.60" height="2.00" fill="#fff"/><rect x="445.00" y="92.00" width="1.40" height="5.00" fill="#fff"/><rect x="464.80" y="89.00" width="1.40" height="4.00" fill="#fff"/><rect x="445.20" y="99.00" width="2.00" height="4.50" fill="#fff"/><rect x="464.20" y="99.20" width="2.00" height="4.00" fill="#fff"/><rect x="447.80" y="96.40" width="1.40" height="1.40" fill="#fff"/><rect x="462.00" y="96.00" width="1.40" height="1.40" fill="#fff"/><rect x="449.00" y="100.60" width="1.20" height="1.20" fill="#fff"/><rect x="457.00" y="99.00" width="2.40" height="0.90" fill="#fff"/><rect x="460.60" y="101.60" width="1.60" height="1.20" fill="#fff"/><rect x="451.60" y="103.60" width="1.20" height="1.20" fill="#fff"/><rect x="453.0" y="87.0" width="7.6" height="7.8" fill="#fff" stroke="#000" stroke-width="0.6"/><circle cx="456.8" cy="90.9" r="2.7" fill="none" stroke="#000" stroke-width="0.8"/><rect x="456.40" y="87.80" width="0.80" height="6.20" fill="#000"/><rect x="453.80" y="90.50" width="6.00" height="0.80" fill="#000"/><circle cx="441" cy="91" r="1.5" fill="#000"/><rect x="443.80" y="104.40" width="2.00" height="12.00" fill="#000"/><rect x="448.40" y="100.00" width="1.60" height="16.40" fill="#000"/><rect x="446.20" y="104.40" width="1.60" height="12.00" fill="#fff"/><rect x="451.40" y="104.40" width="15.00" height="1.20" fill="#000"/><rect x="451.40" y="107.00" width="15.00" height="2.00" fill="#000"/><rect x="465.40" y="100.00" width="1.80" height="16.60" fill="#000"/><rect x="450.40" y="109.60" width="15.40" height="6.60" fill="#000"/><rect x="452.40" y="110.40" width="1.20" height="5.20" fill="#fff"/><rect x="454.60" y="110.40" width="1.20" height="5.20" fill="#fff"/><rect x="456.80" y="110.40" width="1.20" height="5.20" fill="#fff"/><rect x="459.00" y="110.40" width="1.20" height="5.20" fill="#fff"/><rect x="461.20" y="110.40" width="1.20" height="5.20" fill="#fff"/><rect x="463.40" y="110.40" width="1.20" height="5.20" fill="#fff"/><rect x="447.20" y="112.40" width="3.20" height="3.40" fill="#000"/><rect x="491.8" y="78.4" width="32.0" height="39.8" fill="none" stroke="#222" stroke-width="1.1"/><rect x="492.30" y="78.90" width="31.00" height="29.40" fill="#fff"/><g transform="translate(507.6 94.2)"><circle r="11.64" fill="none" stroke="#000" stroke-width="3.05" stroke-dasharray="2.62 2.25"/><circle r="9.06" fill="#fff" stroke="#000" stroke-width="3.62"/><circle r="9.25" fill="none" stroke="#fff" stroke-width="1.19" stroke-dasharray="1.38 2.25"/><circle r="6.30" fill="none" stroke="#000" stroke-width="1.24" stroke-dasharray="1.14 1.34"/><circle r="4.48" fill="#000"/><ellipse rx="1.43" ry="0.95" fill="#e00000"/></g><rect x="502.00" y="96.00" width="2.20" height="13.50" fill="#000"/><rect x="503.60" y="97.00" width="0.80" height="11.00" fill="#fff"/><path d="M501.8 108.5 l4.5 -1.2 l0.8 2.2 l-4 2.2 l-3 -0.2z" fill="#000"/><path d="M489.2 113.2 l2.8 -2.2 v4.4z" fill="#000"/><rect x="541.9" y="78.4" width="32.2" height="39.8" fill="none" stroke="#222" stroke-width="1.1"/><rect x="542.40" y="78.90" width="31.20" height="29.40" fill="#fff"/><g transform="translate(558.0 94.2)"><circle r="11.64" fill="none" stroke="#000" stroke-width="3.05" stroke-dasharray="2.62 2.25"/><circle r="9.06" fill="#fff" stroke="#000" stroke-width="3.62"/><circle r="9.25" fill="none" stroke="#fff" stroke-width="1.19" stroke-dasharray="1.38 2.25"/><circle r="6.30" fill="none" stroke="#000" stroke-width="1.24" stroke-dasharray="1.14 1.34"/><circle r="4.48" fill="#000"/><ellipse rx="1.43" ry="0.95" fill="#e00000"/></g><rect x="552.40" y="96.00" width="2.20" height="13.50" fill="#000"/><rect x="554.00" y="97.00" width="0.80" height="11.00" fill="#fff"/><path d="M552.2 108.5 l4.5 -1.2 l0.8 2.2 l-4 2.2 l-3 -0.2z" fill="#000"/><path d="M539.3 113.2 l2.8 -2.2 v4.4z" fill="#000"/><use href="#tall" x="134.5" y="183.5"/><use href="#tall" x="193.8" y="183.5"/><use href="#tall" x="253.0" y="183.5"/><use href="#tall" x="382.5" y="183.5"/><use href="#tallg" x="444.2" y="183.5"/><use href="#tallg" x="503.4" y="183.5"/><use href="#tallg" x="562.7" y="183.5"/><path d="M146.8 187.8 L149.4 185.0 L150.4 185.9 L151.7 183.5 L153.6 185.2 L156.2 182.9 L157.2 185.9 L159.3 186.9 L159.8 191.1 L157.5 194.5 L154.0 195.9 L150.1 194.7 L147.8 191.8Z" fill="#ffff00" stroke="#ffff00" stroke-width="1.6" stroke-linejoin="round"/><path d="M206.5 185.2 L209.1 182.4 L210.1 183.4 L211.4 181.0 L213.3 182.7 L215.9 180.4 L216.9 183.4 L219.0 184.4 L219.5 188.4 L217.2 191.8 L213.7 193.2 L209.8 192.0 L207.5 189.2Z" fill="#ffff00" stroke="#ffff00" stroke-width="1.6" stroke-linejoin="round"/><path d="M266.9 184.9 L269.5 182.2 L270.5 183.1 L271.8 180.8 L273.7 182.4 L276.3 180.2 L277.3 183.1 L279.4 184.0 L279.9 188.0 L277.6 191.2 L274.0 192.6 L270.1 191.5 L267.9 188.7Z" fill="#ffff00" stroke="#ffff00" stroke-width="1.6" stroke-linejoin="round"/><path d="M395.8 185.1 L398.4 182.3 L399.5 183.3 L400.8 180.8 L402.7 182.5 L405.3 180.2 L406.4 183.3 L408.5 184.3 L409.0 188.5 L406.6 192.0 L403.1 193.4 L399.1 192.2 L396.9 189.2Z" fill="#ffff00" stroke="#ffff00" stroke-width="1.6" stroke-linejoin="round"/><path d="M234.4 182.9 L237.2 180.0 L238.3 181.0 L239.7 178.5 L241.7 180.3 L244.5 177.9 L245.6 181.0 L247.8 182.0 L248.4 186.3 L245.9 189.8 L242.1 191.4 L237.9 190.1 L235.5 187.1Z" fill="#ffff00" stroke="#ffff00" stroke-width="1.6" stroke-linejoin="round"/><rect x="318.00" y="206.00" width="1.30" height="27.00" fill="#222"/><rect x="350.60" y="206.00" width="1.30" height="27.00" fill="#777"/><rect x="316.40" y="198.00" width="36.60" height="7.00" fill="#000"/><rect x="321.4" y="192.5" width="4.6" height="47" fill="#fff" stroke="#000" stroke-width="1.2"/><rect x="343.4" y="192.5" width="4.8" height="47" fill="#fff" stroke="#000" stroke-width="1.2"/><rect x="320.80" y="197.60" width="5.80" height="1.10" fill="#000"/><rect x="342.80" y="197.60" width="6.00" height="1.10" fill="#000"/><rect x="320.80" y="205.40" width="5.80" height="1.10" fill="#000"/><rect x="342.80" y="205.40" width="6.00" height="1.10" fill="#000"/><rect x="320.80" y="231.80" width="5.80" height="1.10" fill="#000"/><rect x="342.80" y="231.80" width="6.00" height="1.10" fill="#000"/><rect x="319.60" y="199.40" width="1.60" height="4.40" fill="#999"/><rect x="326.80" y="199.40" width="1.40" height="4.40" fill="#999"/><rect x="348.80" y="199.40" width="1.60" height="4.40" fill="#999"/><path d="M328.4 199 l3.4 -2.2 l3 -2.6 l2.4 1.0 l2.2 -1.6 l2.8 3.4 v12.4 h-13.8z" fill="#000"/><rect x="327.40" y="208.00" width="15.40" height="31.60" fill="#fff"/><rect x="327.40" y="208.00" width="15.40" height="4.60" fill="#000"/><rect x="329.00" y="213.60" width="12.00" height="1.20" fill="#000"/><rect x="329.00" y="216.20" width="3.00" height="2.60" fill="#000"/><rect x="338.20" y="216.20" width="3.00" height="2.60" fill="#000"/><rect x="333.20" y="216.60" width="3.80" height="1.20" fill="#000"/><rect x="328.40" y="219.80" width="13.40" height="1.30" fill="#000"/><rect x="329.60" y="222.20" width="11.00" height="8.20" fill="#000"/><rect x="333.40" y="224.60" width="3.80" height="3.60" fill="#fff"/><rect x="331.00" y="223.20" width="2.00" height="1.00" fill="#fff"/><rect x="337.60" y="223.20" width="2.00" height="1.00" fill="#fff"/><rect x="327.40" y="231.40" width="15.40" height="1.20" fill="#000"/><rect x="334.60" y="231.40" width="1.20" height="8.00" fill="#000"/><rect x="328.60" y="234.80" width="13.00" height="1.00" fill="#000"/><rect x="320.60" y="239.40" width="28.40" height="1.50" fill="#000"/><rect x="329.00" y="237.40" width="12.40" height="1.00" fill="#000"/><rect x="354.80" y="199.60" width="1.00" height="5.60" fill="#666"/><rect x="357.20" y="199.60" width="1.00" height="5.60" fill="#666"/><rect x="359.60" y="199.60" width="1.00" height="5.60" fill="#666"/><rect x="362.00" y="199.60" width="1.00" height="5.60" fill="#666"/><rect x="364.40" y="199.60" width="1.00" height="5.60" fill="#666"/><rect x="366.60" y="199.00" width="1.20" height="7.60" fill="#444"/><path d="M180.6 109.9 L189.2 109.9 L189.2 106.4 L196.2 113.4 L189.2 120.4 L189.2 116.9 L180.6 116.9Z" fill="#1b2466" transform="translate(1.6 3.0)" filter="url(#bl)"/><path d="M180.6 109.9 L189.2 109.9 L189.2 106.4 L196.2 113.4 L189.2 120.4 L189.2 116.9 L180.6 116.9Z" fill="#ff0000"/><path d="M423.2 110.1 L430.8 110.1 L430.8 106.6 L437.0 113.7 L430.8 120.8 L430.8 117.2 L423.2 117.2Z" fill="#1b2466" transform="translate(1.6 3.0)" filter="url(#bl)"/><path d="M423.2 110.1 L430.8 110.1 L430.8 106.6 L437.0 113.7 L430.8 120.8 L430.8 117.2 L423.2 117.2Z" fill="#ff0000"/><path d="M303.1 176.0 L310.5 176.0 L310.5 182.4 L314.2 182.4 L306.8 188.0 L299.4 182.4 L303.1 182.4Z" fill="#1b2466" transform="translate(0.8 3.2)" filter="url(#bl)"/><path d="M303.1 176.0 L310.5 176.0 L310.5 182.4 L314.2 182.4 L306.8 188.0 L299.4 182.4 L303.1 182.4Z" fill="#ff0000"/><path d="M363.9 177.3 L370.8 183.1 L367.1 183.1 L367.1 188.8 L360.7 188.8 L360.7 183.1 L357.0 183.1Z" fill="#1b2466" transform="translate(0.8 3.6)" filter="url(#bl)"/><path d="M363.9 177.3 L370.8 183.1 L367.1 183.1 L367.1 188.8 L360.7 188.8 L360.7 183.1 L357.0 183.1Z" fill="#ff0000"/><path d="M300.6 199.8 L308.5 199.8 L308.5 196.9 L315.0 203.9 L308.5 210.8 L308.5 207.9 L300.6 207.9Z" fill="#1b2466" transform="translate(1.2 3.2)" filter="url(#bl)"/><path d="M300.6 199.8 L308.5 199.8 L308.5 196.9 L315.0 203.9 L308.5 210.8 L308.5 207.9 L300.6 207.9Z" fill="#ff0000"/><path d="M108.5 30.0 L132.0 30.0 L132.0 97.3" fill="none" stroke="#ff0000" stroke-width="1.35"/><path d="M132.0 98.1 L129.0 91.3 L135.0 91.3 Z" fill="#ff0000"/><path d="M332.7 56.5 L332.7 93.0 L305.5 93.0 L305.5 129.0" fill="none" stroke="#ff0000" stroke-width="1.35"/><path d="M305.5 129.8 L302.5 123.0 L308.5 123.0 Z" fill="#ff0000"/><path d="M634.3 57.5 L634.3 105.6 L596.3 105.6 L596.3 148.0" fill="none" stroke="#ff0000" stroke-width="1.35"/><path d="M596.3 148.8 L593.3 142.0 L599.3 142.0 Z" fill="#ff0000"/><path d="M100.0 165.0 L116.4 165.0 L116.4 189.2 L131.5 189.2" fill="none" stroke="#ff0000" stroke-width="1.35"/><path d="M132.3 189.2 L125.5 192.2 L125.5 186.2 Z" fill="#ff0000"/><path d="M100.0 228.0 L119.2 228.0 L119.2 217.0 L137.5 217.0" fill="none" stroke="#ff0000" stroke-width="1.35"/><path d="M138.3 217.0 L131.5 220.0 L131.5 214.0 Z" fill="#ff0000"/><path d="M100.0 266.0 L116.6 266.0 L116.6 240.0 L134.0 240.0" fill="none" stroke="#ff0000" stroke-width="1.35"/><path d="M134.8 240.0 L128.0 243.0 L128.0 237.0 Z" fill="#ff0000"/><path d="M100.0 297.0 L116.6 297.0 L116.6 269.8 L134.0 269.8" fill="none" stroke="#ff0000" stroke-width="1.35"/><path d="M134.8 269.8 L128.0 272.8 L128.0 266.8 Z" fill="#ff0000"/><path d="M100.0 328.5 L116.6 328.5 L116.6 306.3 L134.0 306.3" fill="none" stroke="#ff0000" stroke-width="1.35"/><path d="M134.8 306.3 L128.0 309.3 L128.0 303.3 Z" fill="#ff0000"/><rect x="25.8" y="15.6" width="83.5" height="36.0" rx="6.5" fill="#1b2466" filter="url(#bl)"/><rect x="24.5" y="12.0" width="83.5" height="36.0" rx="6.5" fill="#92d050" stroke="#1b2614" stroke-width="1.25"/><text x="38.2" y="27.9" font-size="12" text-anchor="start" fill="#141414" textLength="56.1" lengthAdjust="spacingAndGlyphs">定子传送倍</text><text x="43.9" y="41.2" font-size="12" text-anchor="start" fill="#141414" textLength="44.9" lengthAdjust="spacingAndGlyphs">速链线体</text><rect x="138.8" y="9.9" width="48.7" height="48.1" rx="6.5" fill="#1b2466" filter="url(#bl)"/><rect x="137.5" y="6.3" width="48.7" height="48.1" rx="6.5" fill="#92d050" stroke="#1b2614" stroke-width="1.25"/><text x="151.2" y="21.1" font-size="12" text-anchor="start" fill="#141414" textLength="21.4" lengthAdjust="spacingAndGlyphs">A01</text><text x="150.6" y="35.3" font-size="12" text-anchor="start" fill="#141414" textLength="22.4" lengthAdjust="spacingAndGlyphs">铁芯</text><text x="150.6" y="48.7" font-size="12" text-anchor="start" fill="#141414" textLength="22.4" lengthAdjust="spacingAndGlyphs">上料</text><rect x="192.6" y="9.9" width="48.7" height="48.1" rx="6.5" fill="#1b2466" filter="url(#bl)"/><rect x="191.3" y="6.3" width="48.7" height="48.1" rx="6.5" fill="#92d050" stroke="#1b2614" stroke-width="1.25"/><text x="205.0" y="21.1" font-size="12" text-anchor="start" fill="#141414" textLength="21.4" lengthAdjust="spacingAndGlyphs">A02</text><text x="204.4" y="35.3" font-size="12" text-anchor="start" fill="#141414" textLength="22.4" lengthAdjust="spacingAndGlyphs">激光</text><text x="204.4" y="48.7" font-size="12" text-anchor="start" fill="#141414" textLength="22.4" lengthAdjust="spacingAndGlyphs">打码</text><rect x="249.6" y="9.9" width="48.7" height="48.1" rx="6.5" fill="#1b2466" filter="url(#bl)"/><rect x="248.3" y="6.3" width="48.7" height="48.1" rx="6.5" fill="#92d050" stroke="#1b2614" stroke-width="1.25"/><text x="262.0" y="21.1" font-size="12" text-anchor="start" fill="#141414" textLength="21.4" lengthAdjust="spacingAndGlyphs">A03</text><text x="261.4" y="35.3" font-size="12" text-anchor="start" fill="#141414" textLength="22.4" lengthAdjust="spacingAndGlyphs">插槽</text><text x="267.0" y="48.7" font-size="12" text-anchor="start" fill="#141414" textLength="11.2" lengthAdjust="spacingAndGlyphs">纸</text><rect x="309.3" y="11.6" width="49.0" height="48.0" rx="6.5" fill="#1b2466" filter="url(#bl)"/><rect x="308.0" y="8.0" width="49.0" height="48.0" rx="6.5" fill="#92d050" stroke="#1b2614" stroke-width="1.25"/><text x="321.8" y="22.8" font-size="12" text-anchor="start" fill="#141414" textLength="21.4" lengthAdjust="spacingAndGlyphs">A06</text><text x="321.3" y="37.0" font-size="12" text-anchor="start" fill="#141414" textLength="22.4" lengthAdjust="spacingAndGlyphs">提升</text><text x="321.3" y="50.4" font-size="12" text-anchor="start" fill="#141414" textLength="22.4" lengthAdjust="spacingAndGlyphs">机构</text><rect x="430.1" y="11.6" width="48.7" height="48.0" rx="6.5" fill="#1b2466" filter="url(#bl)"/><rect x="428.8" y="8.0" width="48.7" height="48.0" rx="6.5" fill="#92d050" stroke="#1b2614" stroke-width="1.25"/><text x="442.5" y="22.8" font-size="12" text-anchor="start" fill="#141414" textLength="21.4" lengthAdjust="spacingAndGlyphs">A08</text><text x="441.9" y="37.0" font-size="12" text-anchor="start" fill="#141414" textLength="22.4" lengthAdjust="spacingAndGlyphs">裁线</text><text x="441.9" y="50.4" font-size="12" text-anchor="start" fill="#141414" textLength="22.4" lengthAdjust="spacingAndGlyphs">焊接</text><rect x="538.8" y="13.1" width="48.5" height="47.5" rx="6.5" fill="#1b2466" filter="url(#bl)"/><rect x="537.5" y="9.5" width="48.5" height="47.5" rx="6.5" fill="#92d050" stroke="#1b2614" stroke-width="1.25"/><text x="551.1" y="24.3" font-size="12" text-anchor="start" fill="#141414" textLength="21.4" lengthAdjust="spacingAndGlyphs">A10</text><text x="550.5" y="38.5" font-size="12" text-anchor="start" fill="#141414" textLength="22.4" lengthAdjust="spacingAndGlyphs">性能</text><text x="550.5" y="51.9" font-size="12" text-anchor="start" fill="#141414" textLength="22.4" lengthAdjust="spacingAndGlyphs">测试</text><rect x="368.8" y="12.6" width="53.0" height="38.0" rx="6.5" fill="#1b2466" filter="url(#bl)"/><rect x="367.5" y="9.0" width="53.0" height="38.0" rx="6.5" fill="#92d050" stroke="#1b2614" stroke-width="1.25"/><text x="377.7" y="25.0" font-size="12" text-anchor="start" fill="#141414" textLength="32.6" lengthAdjust="spacingAndGlyphs">A07扩</text><text x="377.2" y="38.8" font-size="12" text-anchor="start" fill="#141414" textLength="33.7" lengthAdjust="spacingAndGlyphs">口扭线</text><rect x="483.8" y="11.6" width="48.0" height="58.0" rx="6.5" fill="#1b2466" filter="url(#bl)"/><rect x="482.5" y="8.0" width="48.0" height="58.0" rx="6.5" fill="#92d050" stroke="#1b2614" stroke-width="1.25"/><text x="495.8" y="22.6" font-size="12" text-anchor="start" fill="#141414" textLength="21.4" lengthAdjust="spacingAndGlyphs">A09</text><text x="500.9" y="35.6" font-size="12" text-anchor="start" fill="#141414" textLength="11.2" lengthAdjust="spacingAndGlyphs">入</text><text x="494.2" y="49.2" font-size="12" text-anchor="start" fill="#141414" textLength="24.7" lengthAdjust="spacingAndGlyphs">BUS</text><text x="494.2" y="62.4" font-size="12" text-anchor="start" fill="#141414" textLength="24.7" lengthAdjust="spacingAndGlyphs">BAR</text><rect x="593.8" y="13.1" width="95.5" height="47.5" rx="6.5" fill="#1b2466" filter="url(#bl)"/><rect x="592.5" y="9.5" width="95.5" height="47.5" rx="6.5" fill="#92d050" stroke="#1b2614" stroke-width="1.25"/><text x="629.5" y="24.6" font-size="12" text-anchor="start" fill="#141414" textLength="21.4" lengthAdjust="spacingAndGlyphs">A11</text><text x="606.5" y="38.0" font-size="12" text-anchor="start" fill="#141414" textLength="67.3" lengthAdjust="spacingAndGlyphs">取鸟巢、插入</text><text x="612.2" y="51.2" font-size="12" text-anchor="start" fill="#141414" textLength="56.1" lengthAdjust="spacingAndGlyphs">机构及地轨</text><rect x="26.1" y="154.0" width="75.0" height="30.6" rx="6.5" fill="#1b2466" filter="url(#bl)"/><rect x="24.8" y="150.4" width="75.0" height="30.6" rx="6.5" fill="#92d050" stroke="#1b2614" stroke-width="1.25"/><text x="34.2" y="163.0" font-size="12" text-anchor="start" fill="#141414" textLength="56.1" lengthAdjust="spacingAndGlyphs">插入线圈及</text><text x="39.9" y="176.0" font-size="12" text-anchor="start" fill="#141414" textLength="44.9" lengthAdjust="spacingAndGlyphs">鸟巢成型</text><rect x="26.1" y="215.6" width="75.0" height="23.5" rx="6.5" fill="#1b2466" filter="url(#bl)"/><rect x="24.8" y="212.0" width="75.0" height="23.5" rx="6.5" fill="#92d050" stroke="#1b2614" stroke-width="1.25"/><text x="32.2" y="226.9" font-size="12" text-anchor="start" fill="#141414" textLength="60.2" lengthAdjust="spacingAndGlyphs">线圈3D成型</text><rect x="26.1" y="258.4" width="75.0" height="23.6" rx="6.5" fill="#1b2466" filter="url(#bl)"/><rect x="24.8" y="254.8" width="75.0" height="23.6" rx="6.5" fill="#92d050" stroke="#1b2614" stroke-width="1.25"/><text x="32.2" y="270.3" font-size="12" text-anchor="start" fill="#141414" textLength="60.2" lengthAdjust="spacingAndGlyphs">线圈2D成型</text><rect x="26.1" y="289.4" width="75.0" height="23.2" rx="6.5" fill="#1b2466" filter="url(#bl)"/><rect x="24.8" y="285.8" width="75.0" height="23.2" rx="6.5" fill="#92d050" stroke="#1b2614" stroke-width="1.25"/><text x="45.5" y="301.6" font-size="12" text-anchor="start" fill="#141414" textLength="33.7" lengthAdjust="spacingAndGlyphs">去漆皮</text><rect x="25.8" y="321.1" width="75.0" height="20.5" rx="6.5" fill="#1b2466" filter="url(#bl)"/><rect x="24.5" y="317.5" width="75.0" height="20.5" rx="6.5" fill="#92d050" stroke="#1b2614" stroke-width="1.25"/><text x="34.0" y="332.0" font-size="12" text-anchor="start" fill="#141414" textLength="56.1" lengthAdjust="spacingAndGlyphs">漆包线校直</text><rect x="315.3" y="264.1" width="48.5" height="47.5" rx="6.5" fill="#1b2466" filter="url(#bl)"/><rect x="314.0" y="260.5" width="48.5" height="47.5" rx="6.5" fill="#92d050" stroke="#1b2614" stroke-width="1.25"/><text x="327.5" y="275.6" font-size="12" text-anchor="start" fill="#141414" textLength="21.4" lengthAdjust="spacingAndGlyphs">A06</text><text x="327.0" y="288.8" font-size="12" text-anchor="start" fill="#141414" textLength="22.4" lengthAdjust="spacingAndGlyphs">鸟巢</text><text x="327.0" y="302.0" font-size="12" text-anchor="start" fill="#141414" textLength="22.4" lengthAdjust="spacingAndGlyphs">插入</text><rect x="438.3" y="327.4" width="163.0" height="53.7" rx="8.0" fill="#1b2466" filter="url(#bl)"/><rect x="437.0" y="323.8" width="163.0" height="53.7" rx="8.0" fill="#92d050" stroke="#1b2614" stroke-width="1.25"/><text x="491.2" y="348.4" font-size="12" text-anchor="start" fill="#141414" textLength="53.9" lengthAdjust="spacingAndGlyphs">A04、A05</text><text x="448.2" y="362.0" font-size="11.7" text-anchor="start" fill="#141414" textLength="140.9" lengthAdjust="spacingAndGlyphs">2D-3D制线及鸟巢成型可扩展</text><rect x="641.4" y="146.5" width="149.0" height="96.2" rx="11.0" fill="#1b2466" filter="url(#bl)"/><rect x="639.4" y="143.5" width="149.0" height="96.2" rx="11.0" fill="#92d050" stroke="#1b2614" stroke-width="1.25"/><text x="664.5" y="174.4" font-size="19.6" text-anchor="start" fill="#ff0000" textLength="98.0" lengthAdjust="spacingAndGlyphs" font-weight="bold">整线效率：</text><text x="653.6" y="199.3" font-size="19.6" text-anchor="start" fill="#ff0000" textLength="119.8" lengthAdjust="spacingAndGlyphs" font-weight="bold" xml:space="preserve">最大  30-50台</text><text x="691.2" y="224.8" font-size="19.6" text-anchor="start" fill="#ff0000" textLength="44.6" lengthAdjust="spacingAndGlyphs" font-weight="bold">/小时</text><g opacity="0.74"><rect x="331.2" y="119.3" width="27.6" height="27" rx="6.5" fill="#ec4450"/><path d="M355.0 132.8 L350.0 141.5 L340.0 141.5 L335.0 132.8 L340.0 124.1 L350.0 124.1Z" fill="none" stroke="#fff" stroke-width="2.7" stroke-linejoin="round"/><path d="M350.6 132.8 L347.8 137.6 L342.2 137.6 L339.4 132.8 L342.2 128.0 L347.8 128.0Z" fill="none" stroke="#fff" stroke-width="1.9" stroke-linejoin="round"/><path d="M347.8 137.6 L345.2 142.2" stroke="#fff" stroke-width="1.9"/><path d="M339.4 132.8 L336.8 128.3" stroke="#fff" stroke-width="1.9"/><path d="M347.8 128.0 L353.0 128.0" stroke="#fff" stroke-width="1.9"/></g><text x="365.8" y="132.9" font-size="15.4" text-anchor="start" fill="#ec4450" opacity="0.74" textLength="62.8" lengthAdjust="spacingAndGlyphs" font-weight="bold">合力士</text><text x="366.0" y="145.3" font-size="11.8" text-anchor="start" fill="#ec4450" opacity="0.74" textLength="61.0" lengthAdjust="spacingAndGlyphs" font-weight="bold">HONEST</text><circle cx="437.6" cy="119.2" r="3" fill="none" stroke="#ec4450" stroke-width="0.8" opacity="0.7"/></svg>
</body></html>
